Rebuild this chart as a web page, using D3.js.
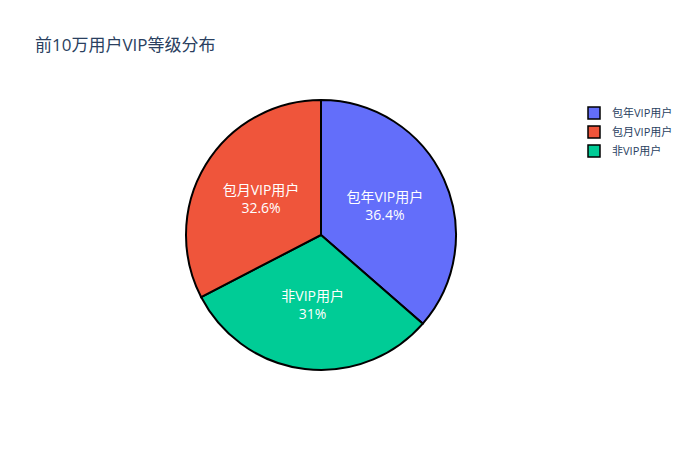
<!DOCTYPE html>
<html><head><meta charset="utf-8">
<script src="https://cdn.jsdelivr.net/npm/d3@7"></script>
<style>body{margin:0;background:#fff}</style>
</head><body><div id="chart"></div>
<script>
var categories = ["包年VIP用户", "包月VIP用户", "非VIP用户"];
var values = [36.4, 32.6, 31.0];
var colors = ["#636efa", "#EF553B", "#00cc96"];
// clockwise order of slices starting at 12 o'clock
var sliceOrder = [0, 2, 1];

var width = 700, height = 450, cx = 321, cy = 235, r = 135;
var font = "'Open Sans', 'Noto Sans CJK SC', sans-serif";

var svg = d3.select("#chart").append("svg").attr("width", width).attr("height", height);

svg.append("text").attr("x", 35).attr("y", 51)
  .style("font-family", font).style("font-size", "17px").attr("fill", "#2a3f5f")
  .text("前10万用户VIP等级分布");

var pie = d3.pie().sort(null).value(function(i) { return values[i]; });
var arc = d3.arc().innerRadius(0).outerRadius(r);
var total = d3.sum(values);

var g = svg.append("g").attr("transform", "translate(" + cx + "," + cy + ")");
var arcs = pie(sliceOrder);
g.selectAll("path").data(arcs).enter().append("path")
  .attr("d", arc).attr("fill", function(d) { return colors[d.data]; })
  .attr("stroke", "#000").attr("stroke-width", 2);

var labelArc = d3.arc().innerRadius(r * 0.52).outerRadius(r * 0.52);
var lab = g.selectAll("g.lab").data(arcs).enter().append("g")
  .attr("transform", function(d) { var c = labelArc.centroid(d); return "translate(" + c[0] + "," + c[1] + ")"; });
lab.append("text").attr("text-anchor", "middle").attr("y", -4)
  .style("font-family", font).style("font-size", "14px").attr("fill", "#fff")
  .text(function(d) { return categories[d.data]; });
lab.append("text").attr("text-anchor", "middle").attr("y", 14)
  .style("font-family", font).style("font-size", "14px").attr("fill", "#fff")
  .text(function(d) { return d3.format(".3~r")(values[d.data] / total * 100) + "%"; });

var leg = svg.append("g").attr("transform", "translate(588,113)");
var items = leg.selectAll("g").data(categories).enter().append("g")
  .attr("transform", function(d, i) { return "translate(0," + i * 19 + ")"; });
items.append("rect").attr("x", 0).attr("y", -6).attr("width", 12).attr("height", 12)
  .attr("fill", function(d, i) { return colors[i]; }).attr("stroke", "#000").attr("stroke-width", 1.5);
items.append("text").attr("x", 24).attr("y", 4)
  .style("font-family", font).style("font-size", "11px").attr("fill", "#2a3f5f")
  .text(function(d) { return d; });
</script></body></html>
